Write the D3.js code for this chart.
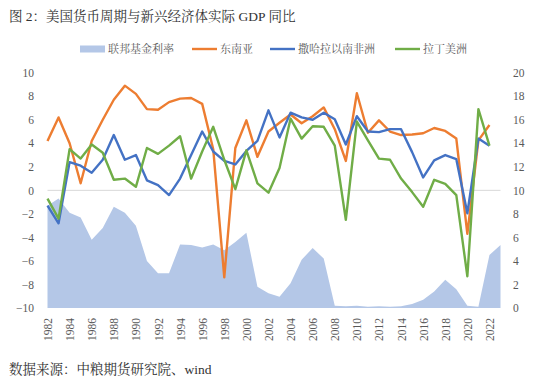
<!DOCTYPE html>
<html><head><meta charset="utf-8">
<script src="https://cdn.jsdelivr.net/npm/d3@7"></script>
<style>
html,body{margin:0;padding:0;background:#fff;}
svg{display:block;}
</style></head>
<body>
<svg id="chart" width="550" height="379"></svg>
<script>
const years = d3.range(1982, 2024);
const lineYears = d3.range(1982, 2023);
const fedRate = [8.7, 9.3, 8.1, 7.7, 5.8, 6.8, 8.6, 8.1, 7.0, 4.0, 2.95, 2.95, 5.4, 5.35, 5.15, 5.4, 4.9, 5.6, 6.4, 1.8, 1.25, 0.95, 2.1, 4.1, 5.1, 4.2, 0.2, 0.15, 0.2, 0.1, 0.15, 0.1, 0.15, 0.35, 0.7, 1.4, 2.4, 1.6, 0.2, 0.1, 4.5, 5.35];
const seAsia = [4.2, 6.2, 4.0, 0.6, 4.2, 6.0, 7.7, 8.9, 8.2, 6.9, 6.85, 7.5, 7.8, 7.85, 7.35, 3.5, -7.4, 3.6, 5.95, 2.85, 5.0, 5.75, 6.45, 5.7, 6.3, 7.05, 5.2, 2.5, 8.25, 4.9, 5.95, 5.0, 4.7, 4.75, 4.85, 5.3, 5.05, 4.4, -3.7, 4.25, 5.55];
const subSahara = [-1.3, -2.8, 2.4, 2.1, 1.5, 2.6, 4.7, 2.6, 3.0, 0.85, 0.45, -0.4, 1.0, 3.0, 5.0, 3.3, 2.5, 2.2, 3.35, 4.2, 6.8, 4.5, 6.6, 6.2, 6.0, 6.6, 6.05, 3.9, 6.3, 5.0, 4.95, 5.2, 5.2, 3.25, 1.1, 2.55, 3.0, 2.65, -1.95, 4.4, 3.8];
const latAm = [-0.7, -2.4, 3.5, 2.7, 3.9, 3.2, 0.9, 1.0, 0.3, 3.6, 3.1, 3.8, 4.6, 1.0, 3.3, 5.4, 2.6, 0.1, 3.4, 0.6, -0.2, 1.9, 6.1, 4.4, 5.45, 5.4, 3.8, -2.5, 5.85, 4.25, 2.7, 2.6, 1.0, -0.15, -1.4, 0.9, 0.55, -0.4, -7.3, 6.9, 3.8];
const leftTicks = d3.range(-10, 11, 2);
const rightTicks = d3.range(0, 21, 2);
const xTickYears = d3.range(1982, 2023, 2);
const seriesNames = ["联邦基金利率", "东南亚", "撒哈拉以南非洲", "拉丁美洲"];
const colors = ["#b4c7e7", "#ed7d31", "#4472c4", "#70ad47"];

const serif = "'Liberation Serif','DejaVu Serif','Noto Serif CJK SC','Noto Sans CJK SC',serif";
const cjk = "'Liberation Serif','Noto Serif CJK SC','Noto Sans CJK SC',serif";

const svg = d3.select("#chart");
const x = d3.scalePoint().domain(years).range([47.5, 500.5]);
const yL = d3.scaleLinear().domain([-10, 10]).range([308, 72.7]);
const yR = d3.scaleLinear().domain([0, 20]).range([308, 72.7]);

// area
const area = d3.area().x((d, i) => x(years[i])).y0(yR(0)).y1(d => yR(d));
svg.append("path").datum(fedRate).attr("d", area).attr("fill", colors[0]);

// zero line
svg.append("line").attr("x1", x(1982)).attr("x2", x(2023))
  .attr("y1", yL(0)).attr("y2", yL(0)).attr("stroke", "#d9d9d9").attr("stroke-width", 1);

// lines
const line = d3.line().x((d, i) => x(lineYears[i])).y(d => yL(d));
[seAsia, subSahara, latAm].forEach((s, k) => {
  svg.append("path").datum(s).attr("d", line).attr("fill", "none")
    .attr("stroke", colors[k + 1]).attr("stroke-width", 2.4).attr("stroke-linejoin", "round");
});

// left axis
const gL = svg.append("g").attr("transform", "translate(34,0)")
  .call(d3.axisLeft(yL).tickValues(leftTicks).tickSize(0).tickPadding(0));
gL.select(".domain").remove();
gL.selectAll("text").attr("font-family", serif).attr("font-size", 11.5).attr("fill", "#595959");

// right axis
const gR = svg.append("g").attr("transform", "translate(513,0)")
  .call(d3.axisRight(yR).tickValues(rightTicks).tickSize(0).tickPadding(0));
gR.select(".domain").remove();
gR.selectAll("text").attr("font-family", serif).attr("font-size", 11.5).attr("fill", "#595959");

// bottom axis
const gB = svg.append("g").attr("transform", "translate(0,308)")
  .call(d3.axisBottom(x).tickValues(xTickYears).tickSize(0));
gB.select(".domain").remove();
gB.selectAll("text").attr("transform", "rotate(-90)").attr("text-anchor", "end")
  .attr("x", -10).attr("y", 0).attr("dy", "0.35em")
  .attr("font-family", serif).attr("font-size", 11.5).attr("fill", "#595959");

// title
svg.append("text").attr("x", 9).attr("y", 21).attr("font-family", cjk)
  .attr("font-size", 13.5).attr("fill", "#333").text("图 2：美国货币周期与新兴经济体实际 GDP 同比");

// legend
const legendX = [80, 192, 270, 395];
const lg = svg.append("g");
seriesNames.forEach((n, i) => {
  const g = lg.append("g").attr("transform", `translate(${legendX[i]},49)`);
  if (i === 0) {
    g.append("rect").attr("x", 0).attr("y", -3.5).attr("width", 25).attr("height", 7).attr("fill", colors[0]);
  } else {
    g.append("line").attr("x1", 0).attr("x2", 25).attr("y1", 0).attr("y2", 0)
      .attr("stroke", colors[i]).attr("stroke-width", 2.4);
  }
  g.append("text").attr("x", 28).attr("y", 0).attr("dy", "0.35em")
    .attr("font-family", cjk).attr("font-size", 11).attr("fill", "#595959").text(n);
});

// source
svg.append("text").attr("x", 9).attr("y", 374).attr("font-family", cjk)
  .attr("font-size", 13.5).attr("fill", "#333").text("数据来源：中粮期货研究院、wind");
</script>
</body></html>
